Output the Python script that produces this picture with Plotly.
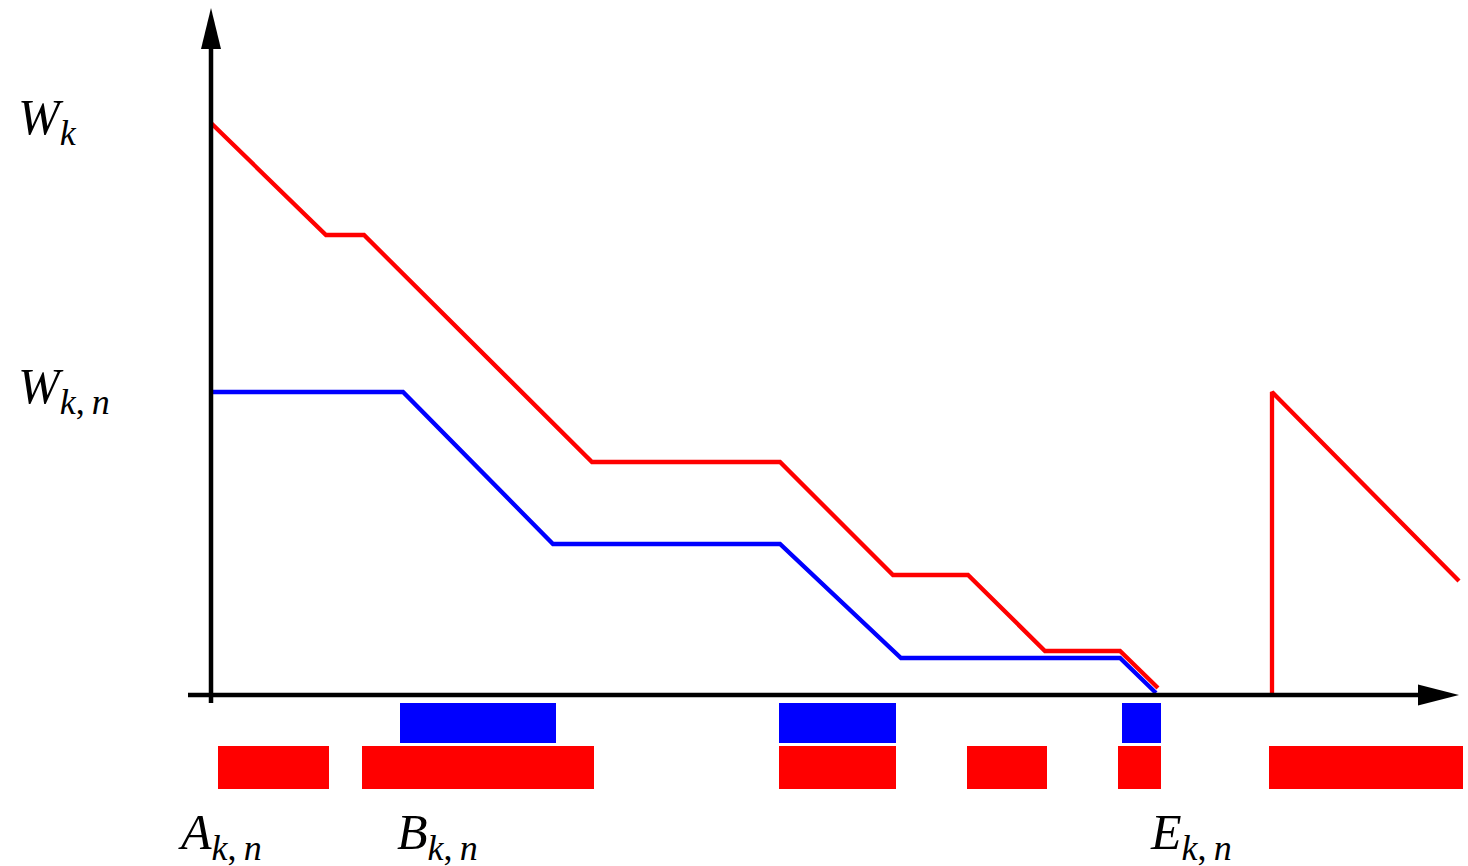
import plotly.graph_objects as go

# ---- data (units: time on x, remaining work on y; origin at axis crossing) ----
total_t = [0, 115, 153, 381, 569, 682, 757, 834, 909, 947]
total_w = [572, 460, 460, 233, 233, 120, 120, 44, 44, 7]

job_t = [0, 192, 342, 569, 690, 909, 945]
job_w = [303, 303, 151, 151, 37, 37, 2]

next_t = [1061, 1061, 1248]
next_w = [0, 303, 114]

# busy intervals (start, end) on the time axis
job_busy_start = [189, 568, 911]
job_busy_end = [345, 685, 950]
all_busy_start = [7, 151, 568, 756, 907, 1058]
all_busy_end = [118, 383, 685, 836, 950, 1252]

SUB = "<sub><span style='font-size:36px'>{}</span></sub>"
y_labels = ["<i>W</i>" + SUB.format("<i>k</i>"),
            "<i>W</i>" + SUB.format("<i>k</i>,\u2009<i>n</i>")]
x_labels = ["<i>A</i>" + SUB.format("<i>k</i>,\u2009<i>n</i>"),
            "<i>B</i>" + SUB.format("<i>k</i>,\u2009<i>n</i>"),
            "<i>E</i>" + SUB.format("<i>k</i>,\u2009<i>n</i>")]

RED = "#ff0000"
BLUE = "#0000ff"

fig = go.Figure()

# busy bars
fig.add_trace(go.Bar(
    orientation="h",
    base=all_busy_start,
    x=[e - s for s, e in zip(all_busy_start, all_busy_end)],
    y=[-72.5] * len(all_busy_start),
    width=43,
    marker=dict(color=RED, line=dict(width=0)),
    hoverinfo="skip",
))
fig.add_trace(go.Bar(
    orientation="h",
    base=job_busy_start,
    x=[e - s for s, e in zip(job_busy_start, job_busy_end)],
    y=[-28] * len(job_busy_start),
    width=40,
    marker=dict(color=BLUE, line=dict(width=0)),
    hoverinfo="skip",
))

# axes
AX = dict(color="black", width=4.5)
fig.add_shape(type="line", x0=-23, x1=1210, y0=0, y1=0, line=AX, layer="above")
fig.add_shape(type="line", x0=0, x1=0, y0=-8, y1=648, line=AX, layer="above")
fig.add_shape(type="path", path="M 1207 -10.5 L 1248 0 L 1207 10.5 Z",
              fillcolor="black", line=dict(width=0), layer="above")
fig.add_shape(type="path", path="M -10 646 L 0 687 L 10 646 Z",
              fillcolor="black", line=dict(width=0), layer="above")

# workload lines
fig.add_trace(go.Scatter(x=job_t, y=job_w, mode="lines",
                         line=dict(color=BLUE, width=4.3), hoverinfo="skip"))
fig.add_trace(go.Scatter(x=total_t, y=total_w, mode="lines",
                         line=dict(color=RED, width=4.3), hoverinfo="skip"))
fig.add_trace(go.Scatter(x=next_t, y=next_w, mode="lines",
                         line=dict(color=RED, width=4.3), hoverinfo="skip"))

FONT = dict(family="Liberation Serif", size=50, color="black")
for txt, yv in zip(y_labels, [total_w[0], job_w[0]]):
    fig.add_annotation(x=-195, y=yv + 2, text=txt, showarrow=False,
                       xanchor="left", yanchor="middle", font=FONT)
for txt, xv in zip(x_labels, [-35, 184, 937]):
    fig.add_annotation(x=xv, y=-141, text=txt, showarrow=False,
                       xanchor="left", yanchor="middle", font=FONT)

fig.update_layout(
    width=1468, height=866,
    margin=dict(l=0, r=0, t=0, b=0),
    paper_bgcolor="white", plot_bgcolor="white",
    showlegend=False, barmode="overlay",
    xaxis=dict(range=[-211, 1257], visible=False, fixedrange=True),
    yaxis=dict(range=[-171, 695], visible=False, fixedrange=True),
)

fig.write_html("out.html")
